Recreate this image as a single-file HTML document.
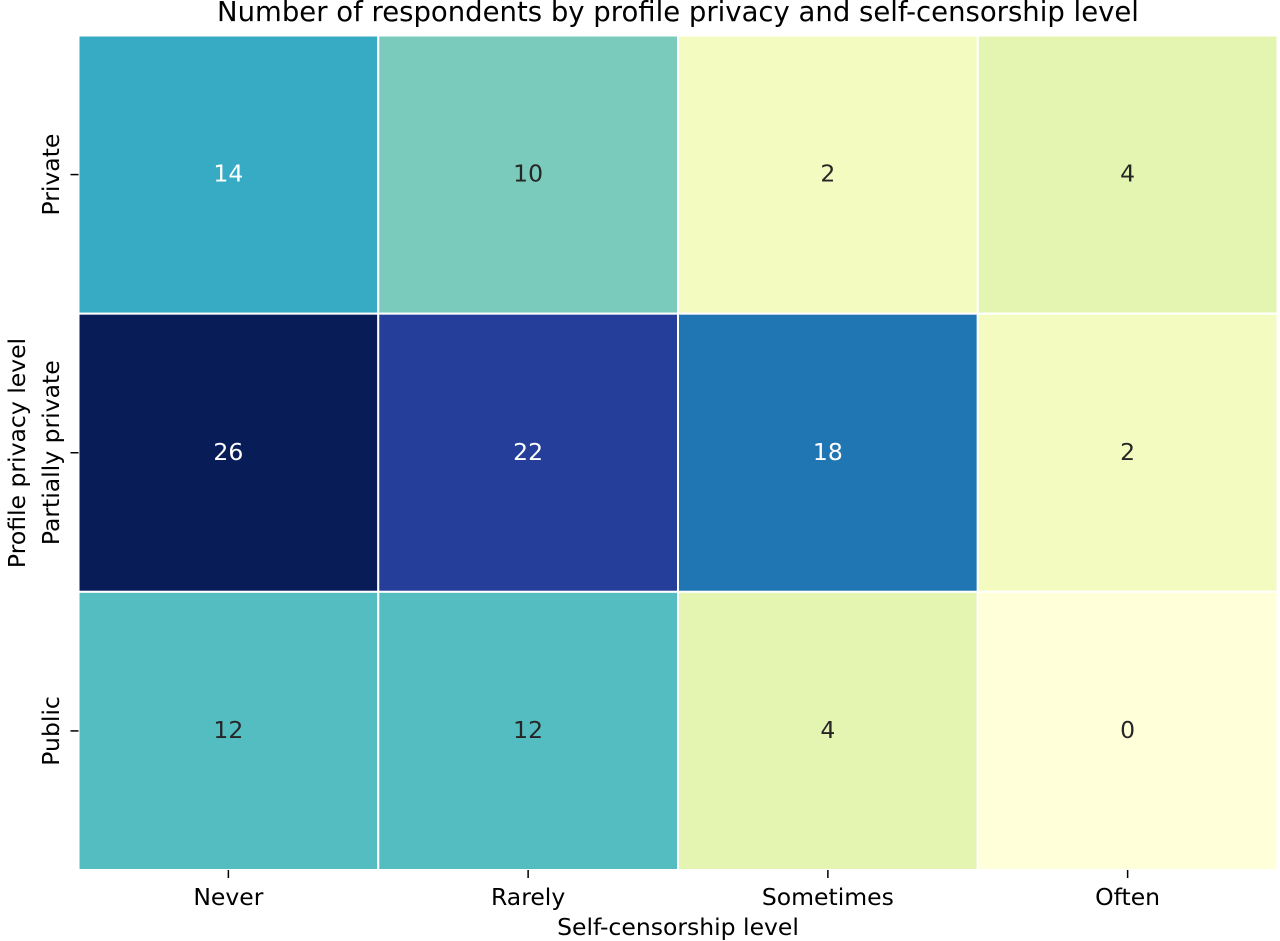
<!DOCTYPE html>
<html><head><meta charset="utf-8"><style>
html,body{margin:0;padding:0;background:#fff;}
svg{display:block;font-family:"DejaVu Sans","Liberation Sans",sans-serif;}
</style></head><body>
<svg id="chart" width="1280" height="941" viewBox="0 0 1280 941" xmlns="http://www.w3.org/2000/svg">
<text x="678" y="21" font-size="27.5" text-anchor="middle" fill="#000">Number of respondents by profile privacy and self-censorship level</text>
<text x="678" y="935" font-size="23.5" text-anchor="middle" fill="#000">Self-censorship level</text>
<text transform="translate(25,453) rotate(-90)" font-size="23.5" text-anchor="middle" fill="#000">Profile privacy level</text>
<g id="cells"></g>
<g id="axes"></g>
</svg>
<script>
const columns = ["Never","Rarely","Sometimes","Often"];
const rows = ["Private","Partially private","Public"];
const valuesPrivate = [14,10,2,4];
const valuesPartial = [26,22,18,2];
const valuesPublic = [12,12,4,0];
const matrix = [valuesPrivate, valuesPartial, valuesPublic];
const vmin = 0, vmax = 26;

const X0 = 78.5, X1 = 1277.5, Y0 = 35.5, Y1 = 870;
const cw = (X1 - X0) / columns.length, rh = (Y1 - Y0) / rows.length;
const xPos = i => X0 + i * cw;
const yPos = j => Y0 + j * rh;
const stops = ["#ffffd9","#edf8b1","#c7e9b4","#7fcdbb","#41b6c4","#1d91c0","#225ea8","#253494","#081d58"];
function hex(h){return [1,3,5].map(k=>parseInt(h.substr(k,2),16));}
function lin(c){c/=255;return c<=0.03928?c/12.92:Math.pow((c+0.055)/1.055,2.4);}
function color(v){
  const t = Math.max(0, Math.min(1, (v - vmin) / (vmax - vmin))) * (stops.length - 1);
  const i = Math.min(Math.floor(t), stops.length - 2), f = t - i;
  const a = hex(stops[i]), b = hex(stops[i+1]);
  const c = a.map((x,k)=>Math.round(x + (b[k]-x)*f));
  const lum = 0.2126*lin(c[0])+0.7152*lin(c[1])+0.0722*lin(c[2]);
  return {fill:`rgb(${c.join(',')})`, text: lum > 0.408 ? "#262626" : "#ffffff"};
}
const NS = "http://www.w3.org/2000/svg";
const cells = document.getElementById("cells");
const axes = document.getElementById("axes");
matrix.forEach((row, j) => {
  row.forEach((v, i) => {
    const c = color(v);
    const r = document.createElementNS(NS, "rect");
    
    
    r.setAttribute("x", xPos(i)); r.setAttribute("y", yPos(j));
    r.setAttribute("width", cw); r.setAttribute("height", rh);
    r.setAttribute("fill", c.fill); r.setAttribute("stroke", "#fff"); r.setAttribute("stroke-width", "2");
    cells.appendChild(r);
    const t = document.createElementNS(NS, "text");
    
    
    t.setAttribute("x", xPos(i) + cw/2); t.setAttribute("y", yPos(j) + rh/2 + 7);
    t.setAttribute("text-anchor", "middle"); t.setAttribute("font-size", "23.5"); t.setAttribute("fill", c.text);
    t.textContent = v;
    cells.appendChild(t);
  });
});
columns.forEach((name, i) => {
  const cx = xPos(i) + cw/2;
  const l = document.createElementNS(NS, "line");
  
  
  l.setAttribute("x1", cx); l.setAttribute("x2", cx); l.setAttribute("y1", Y1); l.setAttribute("y2", Y1 + 8);
  l.setAttribute("stroke", "#000"); l.setAttribute("stroke-width", "1.5");
  axes.appendChild(l);
  const t = document.createElementNS(NS, "text");
  
  
  t.setAttribute("x", cx); t.setAttribute("y", Y1 + 35);
  t.setAttribute("text-anchor", "middle"); t.setAttribute("font-size", "23.5");
  t.textContent = name;
  axes.appendChild(t);
});
rows.forEach((name, j) => {
  const cy = yPos(j) + rh/2;
  const l = document.createElementNS(NS, "line");
  
  
  l.setAttribute("x1", X0 - 8); l.setAttribute("x2", X0); l.setAttribute("y1", cy); l.setAttribute("y2", cy);
  l.setAttribute("stroke", "#000"); l.setAttribute("stroke-width", "1.5");
  axes.appendChild(l);
  const t = document.createElementNS(NS, "text");
  
  
  t.setAttribute("transform", `translate(59,${cy}) rotate(-90)`);
  t.setAttribute("text-anchor", "middle"); t.setAttribute("font-size", "23.5");
  t.textContent = name;
  axes.appendChild(t);
});
</script>
</body></html>
